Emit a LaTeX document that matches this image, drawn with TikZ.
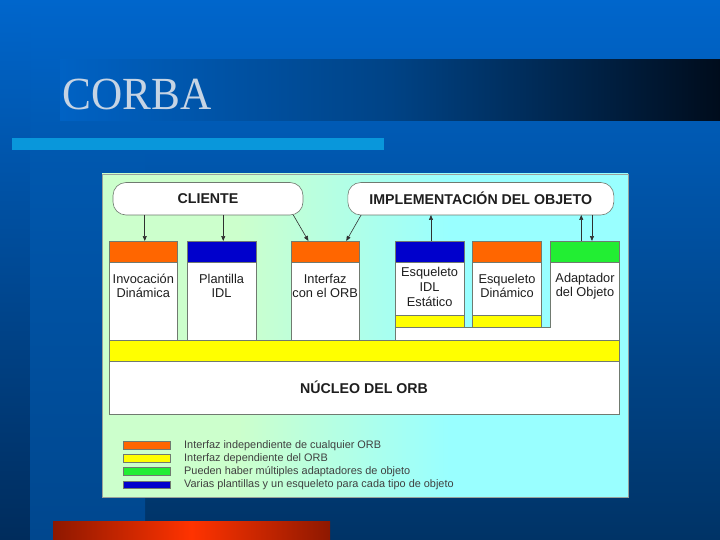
\documentclass[tikz,border=0pt]{standalone}
\usepackage{fontspec}
\setmainfont{Liberation Sans}
\newfontfamily\titleserif{Liberation Serif}
\usetikzlibrary{arrows.meta}
\definecolor{bgtop}{HTML}{0066CC}
\definecolor{bgbot}{HTML}{003366}
\definecolor{stripL}{HTML}{002C5C}
\definecolor{stripMt}{HTML}{0058AF}
\definecolor{stripM}{HTML}{00478E}
\definecolor{barmid}{HTML}{004386}
\definecolor{barend}{HTML}{000C1C}
\definecolor{barstart}{HTML}{0062C4}
\definecolor{lightbar}{HTML}{0997DB}
\definecolor{redD}{HTML}{8E1800}
\definecolor{redM}{HTML}{FF3300}
\definecolor{titletxt}{HTML}{C6D4E4}
\definecolor{pg1}{HTML}{CCFFCC}
\definecolor{pg2}{HTML}{99FFFF}
\definecolor{lc}{HTML}{707A70}
\definecolor{arrc}{HTML}{303030}
\definecolor{txt}{HTML}{1E1E1E}
\definecolor{ora}{HTML}{FF6600}
\definecolor{blu}{HTML}{0000CC}
\definecolor{grn}{HTML}{22EE33}
\definecolor{yel}{HTML}{FFFF00}
\pgfdeclarehorizontalshading{panelsh}{100bp}{color(0bp)=(pg1); color(25bp)=(pg1); color(38bp)=(pg1); color(58bp)=(pg2); color(75bp)=(pg2); color(100bp)=(pg2)}
\begin{document}
\begin{tikzpicture}[x=1pt,y=-1pt,
  line/.style={draw=lc, line width=0.6pt},
  body/.style={line, fill=white, inner sep=0pt, outer sep=0pt, anchor=north west, minimum width=68.5pt, minimum height=99pt},
  hdr/.style={line, inner sep=0pt, outer sep=0pt, anchor=north west, minimum width=68.5pt, minimum height=21pt},
  band/.style={line, fill=yel, inner sep=0pt, outer sep=0pt, anchor=north west, minimum width=68.5pt, minimum height=12pt},
  coltxt/.style={font=\fontsize{12.8}{14.6}\selectfont, text=txt, align=center, inner sep=0pt},
  toptxt/.style={font=\bfseries\fontsize{14.2}{16}\selectfont, text=txt, inner sep=0pt},
  topbox/.style={line, fill=white, rounded corners=13pt, inner sep=0pt, outer sep=0pt, minimum height=32.5pt},
  arr/.style={draw=arrc, line width=0.6pt, -{Triangle[length=5pt,width=4pt]}},
  sw/.style={draw=lc, line width=0.5pt, inner sep=0pt, outer sep=0pt, anchor=north west, minimum width=46.5pt, minimum height=7.7pt},
  legtxt/.style={font=\fontsize{10.9}{12}\selectfont, text=txt!85!white, anchor=west, inner sep=0pt}
]
\useasboundingbox (0,0) rectangle (720,540);
% slide background
\shade[top color=bgtop, bottom color=bgbot] (0,0) rectangle (720,540);
\shade[top color=bgtop, bottom color=stripL] (0,0) rectangle (30,540);
\shade[top color=stripMt, bottom color=stripM] (30,150) rectangle (145,540);
% title bar
\shade[left color=barstart, right color=barend, middle color=barmid] (60,60) rectangle (720,121);
\node[font=\titleserif\fontsize{46}{50}\selectfont, text=titletxt, anchor=base west, inner sep=0pt, xscale=0.94] (title) at (62.5,110) {CORBA};
% light blue bar
\fill[lightbar] (12,138) rectangle (384,150);
% red bar
\shade[left color=redD, right color=redD, middle color=redM] (53,521.5) rectangle (330,540);
% panel
\node[draw=lc!70!white, line width=0.6pt, shading=panelsh, inner sep=0pt, outer sep=0pt, anchor=north west, minimum width=526pt, minimum height=323pt] (panel) at (102,174) {};
% top boxes
\node[topbox, minimum width=190pt] (cli) at (208,198.75) {};
\node[toptxt] (clit) at (cli.center) {CLIENTE};
\node[topbox, minimum width=266pt] (impl) at (480.8,198.75) {};
\node[toptxt] (implt) at (impl.center) {IMPLEMENTACIÓN DEL OBJETO};
% columns 1-3
\node[body] (c1) at (109,241) {};
\node[hdr, fill=ora] (c1h) at (109,241) {};
\node[body] (c2) at (187.3,241) {};
\node[hdr, fill=blu] (c2h) at (187.3,241) {};
\node[body] (c3) at (291,241) {};
\node[hdr, fill=ora] (c3h) at (291,241) {};
% columns 4-6 (joined base)
\draw[line, fill=white] (395.3,340) -- (395.3,241) -- (463.8,241) -- (463.8,327) -- (472.7,327) -- (472.7,241) -- (541.2,241) -- (541.2,327) -- (550.7,327) -- (550.7,241) -- (619.2,241) -- (619.2,340);
\node[hdr, fill=blu] (c4h) at (395.3,241) {};
\node[hdr, fill=ora] (c5h) at (472.7,241) {};
\node[hdr, fill=grn] (c6h) at (550.7,241) {};
\node[band] (y4) at (395.3,315) {};
\node[band] (y5) at (472.7,315) {};
% column texts
\node[coltxt] (t1) at (143.3,286) {Invocación\\Dinámica};
\node[coltxt] (t2) at (221.6,286) {Plantilla\\IDL};
\node[coltxt] (t3) at (325.2,286) {Interfaz\\con el ORB};
\node[coltxt] (t4) at (429.6,287) {Esqueleto\\IDL\\Estático};
\node[coltxt] (t5) at (507,286) {Esqueleto\\Dinámico};
\node[coltxt] (t6) at (585,286) {Adaptador\\del Objeto};
% ORB bars
\node[line, fill=yel, inner sep=0pt, outer sep=0pt, anchor=north west, minimum width=510.2pt, minimum height=21pt] (orbif) at (109,340) {};
\node[line, fill=white, inner sep=0pt, outer sep=0pt, anchor=north west, minimum width=510.2pt, minimum height=53pt] (core) at (109,361) {};
\node[toptxt] (coret) at (364.1,387.5) {NÚCLEO DEL ORB};
% arrows
\coordinate (a1) at ([xshift=1.5pt]c1h.north);
\coordinate (a2) at ([xshift=1.7pt]c2h.north);
\coordinate (a3s) at ([xshift=-9.7pt]cli.south east);
\coordinate (a3e) at ([xshift=-16.8pt]c3h.north);
\coordinate (a4s) at ([xshift=13.3pt]impl.south west);
\coordinate (a4e) at ([xshift=21pt]c3h.north);
\coordinate (a5) at ([xshift=1.4pt]c4h.north);
\coordinate (a6) at ([xshift=-3.7pt]c6h.north);
\coordinate (a7) at ([xshift=7pt]c6h.north);
\draw[arr] (a1 |- cli.south) -- (a1);
\draw[arr] (a2 |- cli.south) -- (a2);
\draw[arr] (a3s) -- (a3e);
\draw[arr] (a4s) -- (a4e);
\draw[arr] (a5) -- (a5 |- impl.south);
\draw[arr] (a6) -- (a6 |- impl.south);
\draw[arr] (a7 |- impl.south) -- (a7);
% legend
\node[sw, fill=ora] (s1) at (123.7,441.6) {};
\node[sw, fill=yel] (s2) at (123.7,454.6) {};
\node[sw, fill=grn] (s3) at (123.7,467.7) {};
\node[sw, fill=blu] (s4) at (123.7,481) {};
\node[legtxt] (l1) at ([xshift=13.8pt]s1.east) {Interfaz independiente de cualquier ORB};
\node[legtxt] (l2) at ([xshift=13.8pt]s2.east) {Interfaz dependiente del ORB};
\node[legtxt] (l3) at ([xshift=13.8pt]s3.east) {Pueden haber múltiples adaptadores de objeto};
\node[legtxt] (l4) at ([xshift=13.8pt]s4.east) {Varias plantillas y un esqueleto para cada tipo de objeto};
\end{tikzpicture}
\end{document}
